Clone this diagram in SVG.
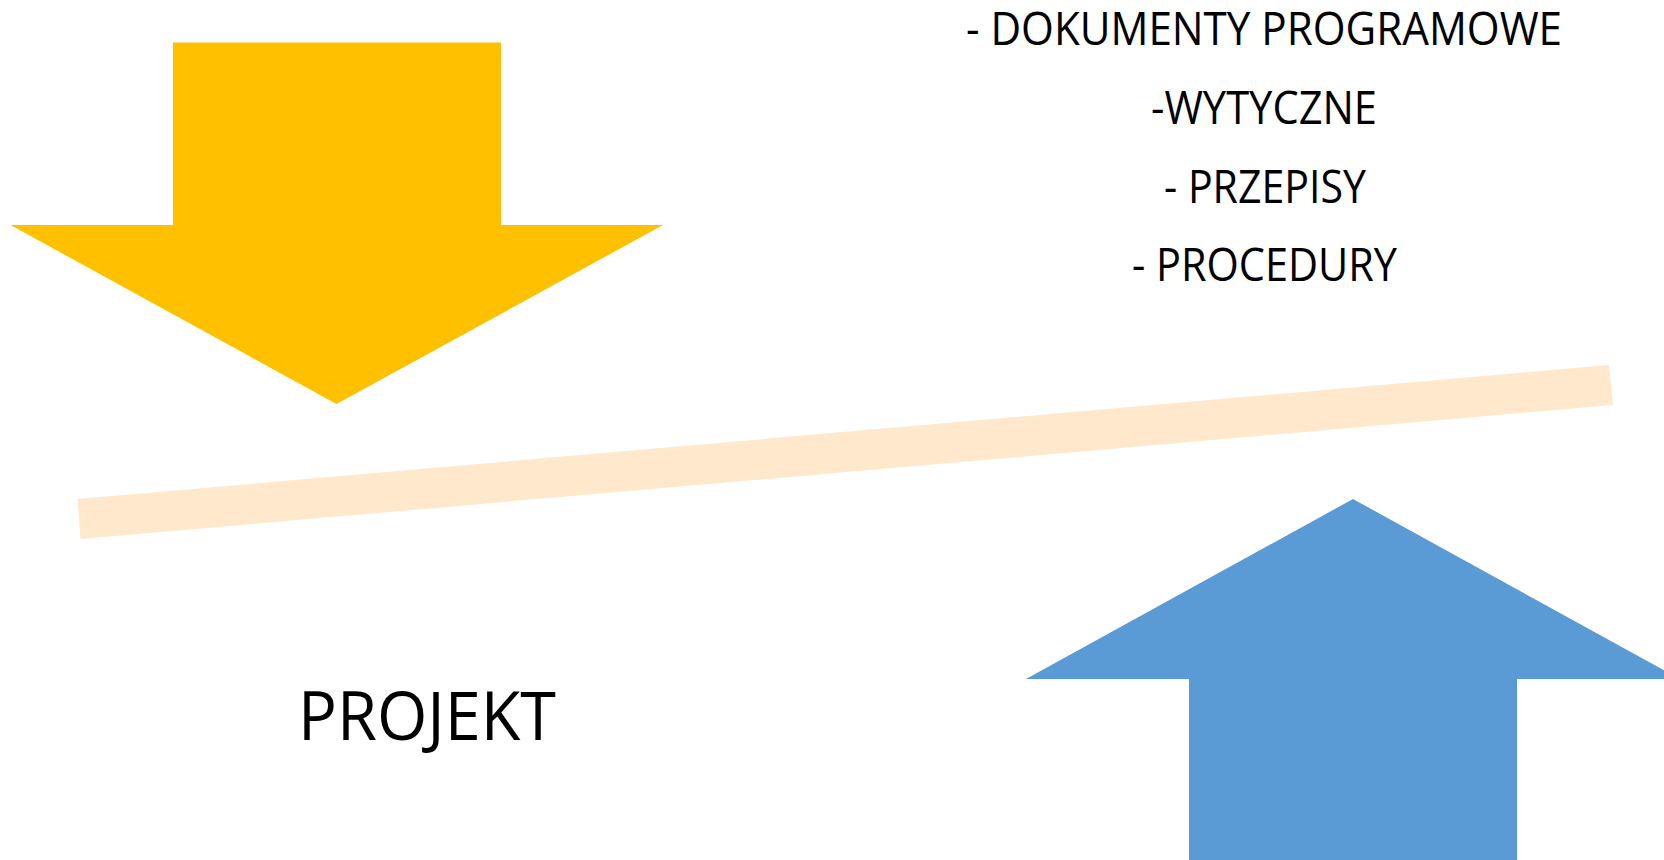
<svg xmlns="http://www.w3.org/2000/svg" width="1664" height="860" viewBox="0 0 1664 860">
<style>
.t{font-family:"Open Sans","Noto Sans","Liberation Sans",sans-serif;fill:#000;text-anchor:middle}
.s{font-size:45px}
.b{font-size:67px}
</style>
<rect width="1664" height="860" fill="#fff"/>
<g id="bar"><polygon points="77.5,499 1609,365 1613,405 80.5,539" fill="#FFE8CC"/></g>
<g id="arrow-down"><polygon points="173,42.5 501,42.5 501,225 663,225 336.5,404 10.5,225 173,225" fill="#FFC000"/></g>
<g id="arrow-up"><polygon points="1353,499 1680,679 1517,679 1517,860 1189,860 1189,679 1026,679" fill="#5B9BD5"/></g>
<g id="list">
<text class="t s" x="1264" y="45" textLength="596" lengthAdjust="spacingAndGlyphs">- DOKUMENTY PROGRAMOWE</text>
<text class="t s" x="1264" y="124" textLength="226" lengthAdjust="spacingAndGlyphs">-WYTYCZNE</text>
<text class="t s" x="1265" y="203" textLength="202" lengthAdjust="spacingAndGlyphs">- PRZEPISY</text>
<text class="t s" x="1264.5" y="281" textLength="265" lengthAdjust="spacingAndGlyphs">- PROCEDURY</text>
</g>
<g id="projekt"><text class="t b" x="427" y="740" textLength="258" lengthAdjust="spacingAndGlyphs">PROJEKT</text></g>
</svg>
